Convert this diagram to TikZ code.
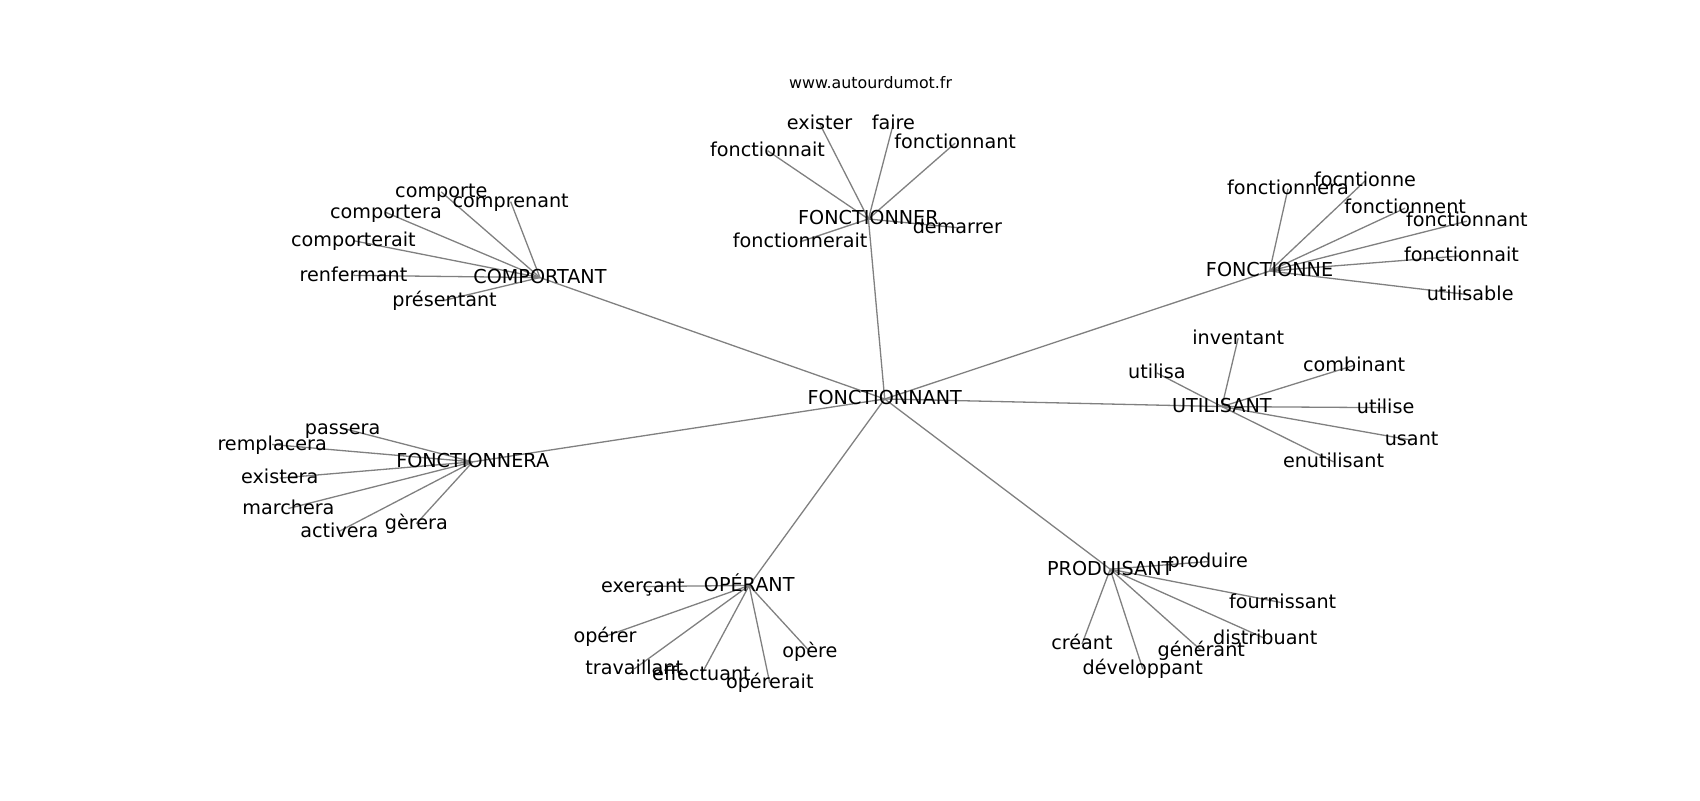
\documentclass[tikz,border=0pt]{standalone}
\usepackage{fontspec}
\setmainfont{DejaVu Sans}
\pgfdeclarelayer{edges}
\pgfsetlayers{edges,main}

\tikzset{every picture/.style={line width=1.2pt}}
\tikzset{
  word/.style={inner sep=0pt, text height=1.07em, text depth=0pt, font=\fontsize{17.7}{20}\selectfont},
  link/.style={draw={rgb, 255:red, 128; green, 128; blue, 128}, line width=1.2pt}
}

\begin{document}
\begin{tikzpicture}[x=1pt,y=1pt,yscale=-1]
\useasboundingbox (0,0) rectangle (1568,738);

% Text Node
\node [inner sep=0pt, font=\fontsize{14.6}{17}\selectfont] (site) at (803,76) {www.autourdumot.fr};

% Text Node
\node [word] (fonctionnant) at (816,368) {FONCTIONNANT};

%FONCTIONNER
\node [word] (fonctionner) at (801,202) {FONCTIONNER};
\node [word] (erExister) at (756,114) {exister};
\node [word] (erFaire) at (824,114) {faire};
\node [word] (erFonctionnait) at (708,139) {fonctionnait};
\node [word] (erFonctionnant) at (881,132) {fonctionnant};
\node [word] (erFonctionnerait) at (738,223) {fonctionnerait};
\node [word] (erDemarrer) at (883,210) {demarrer};

%COMPORTANT
\node [word] (comportant) at (498,256) {COMPORTANT};
\node [word] (coComporte) at (407,177) {comporte};
\node [word] (coComportera) at (356,196) {comportera};
\node [word] (coComprenant) at (471,186) {comprenant};
\node [word] (coComporterait) at (326,222) {comporterait};
\node [word] (coRenfermant) at (326,254) {renfermant};
\node [word] (coPresentant) at (410,277) {présentant};

%FONCTIONNE
\node [word] (fonctionne) at (1171,250) {FONCTIONNE};
\node [word] (neFonctionnera) at (1188,174) {fonctionnera};
\node [word] (neFocntionne) at (1259,167) {focntionne};
\node [word] (neFonctionnent) at (1296,192) {fonctionnent};
\node [word] (neFonctionnant) at (1353,204) {fonctionnant};
\node [word] (neFonctionnait) at (1348,236) {fonctionnait};
\node [word] (neUtilisable) at (1356,272) {utilisable};

%UTILISANT
\node [word] (utilisant) at (1127,375) {UTILISANT};
\node [word] (utInventant) at (1142,312) {inventant};
\node [word] (utUtilisa) at (1067,344) {utilisa};
\node [word] (utCombinant) at (1249,337) {combinant};
\node [word] (utUtilise) at (1278,376) {utilise};
\node [word] (utUsant) at (1302,406) {usant};
\node [word] (utEnutilisant) at (1230,426) {enutilisant};

%FONCTIONNERA
\node [word] (fonctionnera) at (436,426) {FONCTIONNERA};
\node [word] (raPassera) at (316,395) {passera};
\node [word] (raRemplacera) at (251,410) {remplacera};
\node [word] (raExistera) at (258,441) {existera};
\node [word] (raMarchera) at (266,469) {marchera};
\node [word] (raActivera) at (313,490) {activera};
\node [word] (raGerera) at (384,483) {gèrera};

%OPÉRANT
\node [word] (operant) at (691,540) {OPÉRANT};
\node [word] (opExercant) at (593,541) {exerçant};
\node [word] (opOperer) at (558,587) {opérer};
\node [word] (opTravaillant) at (585,617) {travaillant};
\node [word] (opEffectuant) at (647,622) {effectuant};
\node [word] (opOpererait) at (710,630) {opérerait};
\node [word] (opOpere) at (747,601) {opère};

%PRODUISANT
\node [word] (produisant) at (1024,525) {PRODUISANT};
\node [word] (prProduire) at (1114,518) {produire};
\node [word] (prFournissant) at (1183,556) {fournissant};
\node [word] (prDistribuant) at (1167,589) {distribuant};
\node [word] (prGenerant) at (1108,600) {générant};
\node [word] (prCreant) at (998,594) {créant};
\node [word] (prDeveloppant) at (1054,617) {développant};

\begin{pgfonlayer}{edges}
%Straight Lines
\draw [link] (fonctionnant.center) -- (fonctionner.center);
\draw [link] (fonctionnant.center) -- (comportant.center);
\draw [link] (fonctionnant.center) -- (fonctionne.center);
\draw [link] (fonctionnant.center) -- (utilisant.center);
\draw [link] (fonctionnant.center) -- (fonctionnera.center);
\draw [link] (fonctionnant.center) -- (operant.center);
\draw [link] (fonctionnant.center) -- (produisant.center);
%Straight Lines
\draw [link] (fonctionner.center) -- (erExister.center);
\draw [link] (fonctionner.center) -- (erFaire.center);
\draw [link] (fonctionner.center) -- (erFonctionnait.center);
\draw [link] (fonctionner.center) -- (erFonctionnant.center);
\draw [link] (fonctionner.center) -- (erFonctionnerait.center);
\draw [link] (fonctionner.center) -- (erDemarrer.center);
%Straight Lines
\draw [link] (comportant.center) -- (coComporte.center);
\draw [link] (comportant.center) -- (coComportera.center);
\draw [link] (comportant.center) -- (coComprenant.center);
\draw [link] (comportant.center) -- (coComporterait.center);
\draw [link] (comportant.center) -- (coRenfermant.center);
\draw [link] (comportant.center) -- (coPresentant.center);
%Straight Lines
\draw [link] (fonctionne.center) -- (neFonctionnera.center);
\draw [link] (fonctionne.center) -- (neFocntionne.center);
\draw [link] (fonctionne.center) -- (neFonctionnent.center);
\draw [link] (fonctionne.center) -- (neFonctionnant.center);
\draw [link] (fonctionne.center) -- (neFonctionnait.center);
\draw [link] (fonctionne.center) -- (neUtilisable.center);
%Straight Lines
\draw [link] (utilisant.center) -- (utInventant.center);
\draw [link] (utilisant.center) -- (utUtilisa.center);
\draw [link] (utilisant.center) -- (utCombinant.center);
\draw [link] (utilisant.center) -- (utUtilise.center);
\draw [link] (utilisant.center) -- (utUsant.center);
\draw [link] (utilisant.center) -- (utEnutilisant.center);
%Straight Lines
\draw [link] (fonctionnera.center) -- (raPassera.center);
\draw [link] (fonctionnera.center) -- (raRemplacera.center);
\draw [link] (fonctionnera.center) -- (raExistera.center);
\draw [link] (fonctionnera.center) -- (raMarchera.center);
\draw [link] (fonctionnera.center) -- (raActivera.center);
\draw [link] (fonctionnera.center) -- (raGerera.center);
%Straight Lines
\draw [link] (operant.center) -- (opExercant.center);
\draw [link] (operant.center) -- (opOperer.center);
\draw [link] (operant.center) -- (opTravaillant.center);
\draw [link] (operant.center) -- (opEffectuant.center);
\draw [link] (operant.center) -- (opOpererait.center);
\draw [link] (operant.center) -- (opOpere.center);
%Straight Lines
\draw [link] (produisant.center) -- (prProduire.center);
\draw [link] (produisant.center) -- (prFournissant.center);
\draw [link] (produisant.center) -- (prDistribuant.center);
\draw [link] (produisant.center) -- (prGenerant.center);
\draw [link] (produisant.center) -- (prCreant.center);
\draw [link] (produisant.center) -- (prDeveloppant.center);
\end{pgfonlayer}

\end{tikzpicture}
\end{document}
